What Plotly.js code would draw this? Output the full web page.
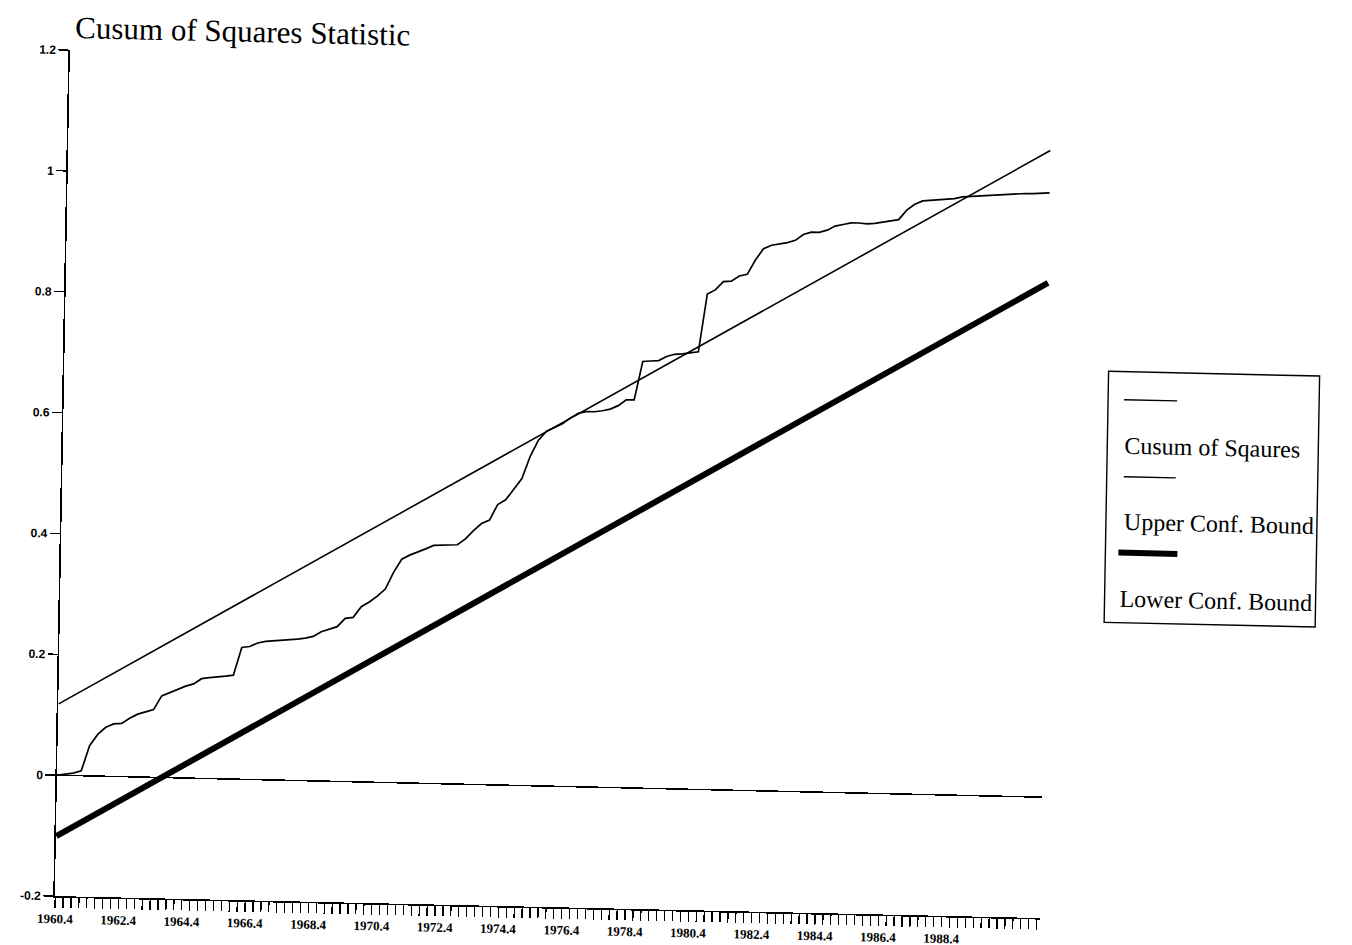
<!DOCTYPE html>
<html>
<head>
<meta charset="utf-8">
<script src="https://cdn.plot.ly/plotly-3.0.1.min.js"></script>
<style>
  html, body { margin: 0; padding: 0; background: #fff; }
  #chart { width: 1352px; height: 945px;
           transform-origin: 55px 775px;
           transform: matrix(1, 0.0223, -0.0178, 1, 0, 0); }
</style>
</head>
<body>
<div id="chart"></div>
<script>
// ---- data ----
const firstYear = 1960, firstQuarter = 4, nObs = 125;   // 1960.4 ... 1991.4
const quarters = [];
for (let i = 0; i < nObs; i++) {
  const q0 = firstQuarter - 1 + i;
  quarters.push((firstYear + Math.floor(q0 / 4)) + "." + ((q0 % 4) + 1));
}
const tickLabels = ["1960.4","1962.4","1964.4","1966.4","1968.4","1970.4","1972.4",
                    "1974.4","1976.4","1978.4","1980.4","1982.4","1984.4","1986.4","1988.4"];

const cusumSq = [
  0.000,0.002,0.004,0.008,0.050,0.069,0.081,0.087,0.088,0.097,
  0.104,0.108,0.112,0.135,0.141,0.146,0.152,0.156,0.165,0.167,
  0.168,0.170,0.172,0.218,0.220,0.226,0.229,0.230,0.231,0.232,
  0.234,0.236,0.239,0.247,0.252,0.256,0.270,0.272,0.290,0.298,
  0.308,0.320,0.348,0.370,0.377,0.382,0.388,0.394,0.395,0.395,
  0.396,0.406,0.420,0.432,0.438,0.464,0.472,0.490,0.508,0.545,
  0.572,0.587,0.594,0.600,0.610,0.618,0.621,0.621,0.623,0.626,
  0.632,0.642,0.642,0.706,0.707,0.708,0.715,0.719,0.720,0.722,
  0.724,0.820,0.827,0.841,0.842,0.851,0.854,0.878,0.897,0.903,
  0.905,0.908,0.912,0.922,0.926,0.926,0.930,0.937,0.940,0.943,
  0.943,0.942,0.943,0.945,0.947,0.950,0.966,0.976,0.982,0.983,
  0.984,0.985,0.987,0.990,0.991,0.993,0.994,0.995,0.996,0.996,
  0.997,0.998,0.998,0.999,1.000
];
const boundDates = ["1960.4", "1991.4"];
const upperBound = [0.118, 1.070];
const lowerBound = [-0.101, 0.851];

const yTickVals = [-0.2, 0, 0.2, 0.4, 0.6, 0.8, 1, 1.2];
const yTickText = ["-0.2", "0", "0.2", "0.4", "0.6", "0.8", "1", "1.2"];

const seriesNames = ["Cusum of Sqaures", "Upper Conf. Bound", "Lower Conf. Bound"];
const titleText = "Cusum of Squares Statistic";

// ---- build ----
const xTickText = quarters.map(q => tickLabels.includes(q) ? q : "");

const traces = [
  { x: quarters, y: cusumSq, type: "scatter", mode: "lines", name: seriesNames[0],
    line: { color: "#000", width: 1.7 }, showlegend: false },
  { x: boundDates, y: upperBound, type: "scatter", mode: "lines", name: seriesNames[1],
    line: { color: "#000", width: 1.6 }, showlegend: false },
  { x: boundDates, y: lowerBound, type: "scatter", mode: "lines", name: seriesNames[2],
    line: { color: "#000", width: 6 }, showlegend: false }
];

const L = 57, R = 1042, T = 50, B = 896;
const W = R - L, H = B - T;
const px = v => (v - L) / W;
const py = v => (B - v) / H;

const serif = "Liberation Serif, Times New Roman, serif";

const legendLines = [
  { x0: 1117, x1: 1170, y: 376, w: 1.4 },
  { x0: 1118, x1: 1170, y: 453, w: 1.4 },
  { x0: 1114, x1: 1173, y: 529, w: 6 }
];
const legendTexts = [
  { x: 1116, y: 422 },
  { x: 1117, y: 498 },
  { x: 1114, y: 575 }
];

const shapes = [
  { type: "rect", xref: "paper", yref: "paper",
    x0: px(1101), x1: px(1312), y0: py(599), y1: py(348),
    line: { color: "#000", width: 1.4 }, fillcolor: "rgba(0,0,0,0)" }
].concat(legendLines.map(l => ({
  type: "line", xref: "paper", yref: "paper",
  x0: px(l.x0), x1: px(l.x1), y0: py(l.y), y1: py(l.y),
  line: { color: "#000", width: l.w }
})));

const annotations = legendTexts.map((t, i) => ({
  xref: "paper", yref: "paper", x: px(t.x), y: py(t.y),
  xanchor: "left", yanchor: "middle", showarrow: false,
  text: seriesNames[i], font: { family: serif, size: 24, color: "#000" }
}));

const layout = {
  width: 1352, height: 945,
  paper_bgcolor: "#fff", plot_bgcolor: "#fff",
  margin: { l: L, r: 1352 - R, t: T, b: 945 - B, pad: 0 },
  showlegend: false,
  title: { text: titleText, xref: "container", yref: "container",
           x: 62 / 1352, xanchor: "left", y: 1 - 27 / 945, yanchor: "middle",
           font: { family: serif, size: 31, color: "#000" } },
  xaxis: {
    type: "category", range: [-0.05, 124.4],
    tickmode: "array", tickvals: quarters, ticktext: xTickText,
    ticks: "outside", ticklen: 10, tickwidth: 1.3, tickcolor: "#000",
    showline: true, linecolor: "#000", linewidth: 1.6,
    showgrid: false, zeroline: false, tickangle: 0,
    tickfont: { family: serif, size: 13, color: "#000", weight: "bold" }
  },
  yaxis: {
    range: [-0.2, 1.2], tickmode: "array", tickvals: yTickVals, ticktext: yTickText,
    ticks: "outside", ticklen: 10, tickwidth: 1.4, tickcolor: "#000",
    showline: true, linecolor: "#000", linewidth: 1.6,
    showgrid: false, zeroline: true, zerolinecolor: "#000", zerolinewidth: 1.5,
    tickfont: { family: "Liberation Sans, Arial, sans-serif", size: 12, color: "#000", weight: "bold" }
  },
  shapes: shapes,
  annotations: annotations
};

Plotly.newPlot("chart", traces, layout, { staticPlot: true, displayModeBar: false });
</script>
</body>
</html>
